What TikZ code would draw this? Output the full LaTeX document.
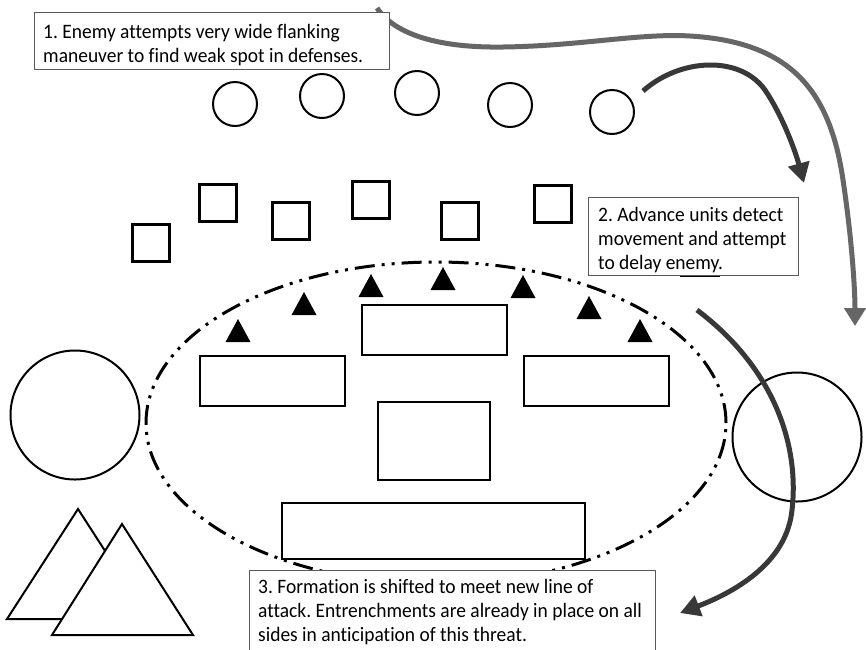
\documentclass[tikz,border=0pt]{standalone}
\usepackage{fontspec}
\setmainfont{Carlito}[Ligatures=NoCommon,FakeStretch=0.95]
\usetikzlibrary{arrows.meta}
\begin{document}
\frenchspacing
\begin{tikzpicture}[x=1pt,y=-1pt,
  unit/.style={circle,draw,line width=2pt,minimum size=44pt,inner sep=0pt},
  bigunit/.style={circle,draw,line width=2pt,minimum size=129pt,inner sep=0pt},
  sq/.style={rectangle,draw,line width=2.3pt,minimum size=37pt,inner sep=0pt},
  block/.style={rectangle,draw,line width=2pt,inner sep=0pt,fill=white},
  tbox/.style={rectangle,draw=black!65,line width=1.2pt,fill=white,
    anchor=north west,inner sep=0pt},
  ttext/.style={align=left,anchor=north west,inner sep=0pt,
    font=\fontsize{20.5}{24}\selectfont},
  perimeter/.style={line width=3pt,dash pattern=on 20pt off 7pt on 3pt off 7pt on 3pt off 7pt},
  grayarrow/.style={draw=black!60,line width=5pt,-{Triangle[width=21pt,length=18pt]}},
  darkarrow/.style={draw=black!78,line width=5pt,-{Triangle[width=21pt,length=20pt]}},
  tri/.style={fill=black}
]
\useasboundingbox (0,0) rectangle (866,649);
\fill[white] (0,0) rectangle (866,649);

% defensive perimeter
\draw[perimeter] (436,423) ellipse [x radius=290pt, y radius=161pt];

% enemy circles
\node[unit] (c1) at (235,104) {};
\node[unit] (c2) at (322,96) {};
\node[unit] (c3) at (417,93) {};
\node[unit] (c4) at (510,105) {};
\node[unit] (c5) at (612,112) {};

% advance squares
\node[sq] (s1) at (151,243) {};
\node[sq] (s2) at (218,203) {};
\node[sq] (s3) at (291,221) {};
\node[sq] (s4) at (371,200) {};
\node[sq] (s5) at (460,221) {};
\node[sq] (s6) at (553,204) {};
\node[sq] (s7) at (700,257) {};

% filled triangles (entrenchments)
\foreach \x/\y in {238/342,304/315,371/297,443/290,523/298,589/319,640/342}{
  \fill[tri] (\x-12.5,\y) -- (\x,\y-23) -- (\x+12.5,\y) -- cycle;
}

% inner blocks
\node[block,minimum width=145pt,minimum height=50pt] (b1) at (434.5,330) {};
\node[block,minimum width=145pt,minimum height=50pt] (b2) at (272.5,381) {};
\node[block,minimum width=145pt,minimum height=50pt] (b3) at (596.5,381) {};
\node[block,minimum width=112pt,minimum height=78pt] (b4) at (434,441) {};
\node[block,minimum width=303pt,minimum height=56pt] (b5) at (433.5,531) {};

% large circles
\node[bigunit] (L) at (75,415) {};
\node[bigunit] (R) at (797,437) {};

% mountains
\draw[line width=2pt,fill=white] (7,619) -- (78,509) -- (149,619) -- cycle;
\draw[line width=2pt,fill=white] (52,635) -- (122,524) -- (193,635) -- cycle;

% arrows
\coordinate (a1s) at (377,8);
\coordinate (a1e) at (855,326);
\draw[grayarrow] (a1s) .. controls (395,35) and (440,48) .. (503,47)
  .. controls (580,46) and (640,33) .. (690,36)
  .. controls (790,42) and (830,90) .. (843,180)
  .. controls (852,240) and (855,290) .. (a1e);

\coordinate (a2s) at (643,91);
\coordinate (a2e) at (804,183);
\draw[darkarrow] (a2s) .. controls (680,58) and (740,55) .. (765,90)
  .. controls (782,115) and (795,150) .. (a2e);

\coordinate (a3s) at (697,310);
\coordinate (a3e) at (680,613);
\draw[darkarrow] (a3s) .. controls (770,365) and (800,440) .. (792,510)
  .. controls (787,560) and (740,590) .. (a3e);

% text boxes
\node[tbox,minimum width=355pt,minimum height=57pt] (t1) at (34,12) {};
\node[ttext] (t1text) at (43,23)
  {\rule{0pt}{15pt}1. Enemy attempts very wide flanking\\maneuver to find weak spot in defenses.};
\node[tbox,minimum width=210pt,minimum height=78pt] (t2) at (588,197) {};
\node[ttext] (t2text) at (598,206)
  {\rule{0pt}{15pt}2. Advance units detect\\movement and attempt\\to delay enemy.};
\node[tbox,minimum width=406pt,minimum height=90pt] (t3) at (248.5,569.5) {};
\node[ttext] (t3text) at (258,578)
  {\rule{0pt}{15pt}3. Formation is shifted to meet new line of\\attack. Entrenchments are already in place on all\\sides in anticipation of this threat.};
\end{tikzpicture}
\end{document}
